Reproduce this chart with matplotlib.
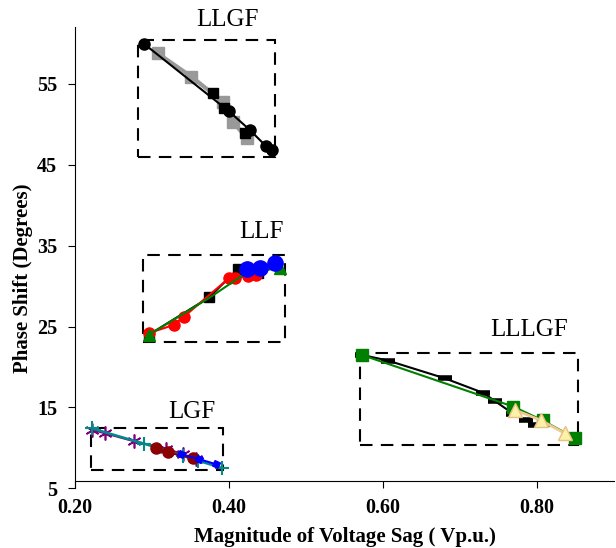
import matplotlib.pyplot as plt
from matplotlib.patches import Rectangle

plt.rcParams['font.family'] = ['Liberation Serif', 'DejaVu Serif']
plt.rcParams['xtick.major.pad'] = 7
plt.rcParams['ytick.major.pad'] = 8

# LLGF
llgf_circ_x = [0.289, 0.400, 0.427, 0.448, 0.455]
llgf_circ_y = [60.0, 51.6, 49.3, 47.3, 46.8]
llgf_sq_x = [0.379, 0.393, 0.420]
llgf_sq_y = [53.9, 52.0, 49.0]
llgf_gray_x = [0.307, 0.351, 0.392, 0.405, 0.423]
llgf_gray_y = [58.8, 55.9, 52.8, 50.3, 48.3]

# LLF
llf_tri_x = [0.296, 0.375, 0.420, 0.466]
llf_tri_y = [24.0, 28.6, 31.5, 32.3]
llf_red_x = [0.296, 0.328, 0.341, 0.400, 0.407, 0.424, 0.435]
llf_red_y = [24.2, 25.2, 26.2, 31.0, 31.0, 31.2, 31.4]
llf_sq_x = [0.296, 0.374, 0.411, 0.438]
llf_sq_y = [24.0, 28.6, 32.1, 31.6]
llf_blue_x = [0.423, 0.440, 0.459]
llf_blue_y = [32.1, 32.3, 32.8]

# LLLGF
lllgf_sq_x = [0.572, 0.769, 0.807, 0.849]
lllgf_sq_y = [21.5, 15.1, 13.4, 11.2]
lllgf_dash_x = [0.572, 0.606, 0.680, 0.730, 0.745, 0.769, 0.786, 0.797]
lllgf_dash_y = [21.5, 20.8, 18.6, 16.8, 15.8, 14.2, 13.4, 12.8]
lllgf_tri_x = [0.771, 0.805, 0.836]
lllgf_tri_y = [14.7, 13.4, 11.8]

# LGF
lgf_star_x = [0.2225, 0.239, 0.277, 0.318, 0.340, 0.357]
lgf_star_y = [12.2, 11.8, 10.8, 9.9, 9.2, 8.6]
lgf_plus_x = [0.222, 0.290, 0.340, 0.360, 0.391]
lgf_plus_y = [12.4, 10.5, 9.0, 8.4, 7.5]
lgf_red_x = [0.305, 0.320, 0.353]
lgf_red_y = [10.0, 9.45, 8.7]
lgf_blue_x = [0.338, 0.361, 0.383]
lgf_blue_y = [9.2, 8.6, 7.97]

xticks = [0.2, 0.4, 0.6, 0.8]
xtick_labels = ["0.20", "0.40", "0.60", "0.80"]
yticks = [5, 15, 25, 35, 45, 55]

# dashed boxes: (x0, x1, y0, y1), label, label pos
boxes = [
    ((0.282, 0.459, 46.0, 60.5), "LLGF", (0.398, 62.9)),
    ((0.288, 0.472, 23.1, 33.9), "LLF", (0.442, 36.7)),
    ((0.570, 0.853, 10.35, 21.7), "LLLGF", (0.79, 24.6)),
    ((0.220, 0.392, 7.26, 12.42), "LGF", (0.351, 14.4)),
]

fig = plt.figure(figsize=(6.16, 5.48), dpi=100)
ax = fig.add_axes([0.122, 0.109, 0.875, 0.841])
ax.spines['top'].set_visible(False)
ax.spines['right'].set_visible(False)
ax.spines['bottom'].set_position(('data', 5.9))

# LLGF
ax.plot(llgf_gray_x, llgf_gray_y, color='#999999', lw=3, marker='s', ms=9, zorder=3)
ax.plot(llgf_circ_x, llgf_circ_y, color='black', lw=1.5, marker='o', ms=8, zorder=4)
ax.plot(llgf_sq_x, llgf_sq_y, color='black', lw=1.5, marker='s', ms=7, ls='none', zorder=4)

# LLF
ax.plot(llf_sq_x, llf_sq_y, color='black', lw=1.5, marker='s', ms=7, zorder=3)
ax.plot(llf_red_x, llf_red_y, color='red', lw=1.5, marker='o', ms=8, zorder=4)
ax.plot(llf_tri_x, llf_tri_y, color='green', lw=1.5, marker='^', ms=9, markevery=[0, 3], zorder=4.5)
ax.plot(llf_blue_x, llf_blue_y, color='blue', lw=1.5, marker='o', ms=11, zorder=5)

# LLLGF
ax.plot(lllgf_dash_x, lllgf_dash_y, color='black', lw=1.5, marker='_', ms=10, mew=4, zorder=3)
ax.plot(lllgf_sq_x, lllgf_sq_y, color='green', lw=1.5, marker='s', ms=8, zorder=4)
ax.plot(lllgf_tri_x, lllgf_tri_y, color='#f0c890', lw=2, marker='^', ms=10,
        mfc='#fdf0a8', mec='#e8c080', zorder=5)

# LGF
ax.plot(lgf_star_x, lgf_star_y, color='#800080', lw=1.5, marker=(6, 2, 0), ms=10, mew=1.2, zorder=3)
ax.plot(lgf_plus_x, lgf_plus_y, color='#008b8b', lw=1.8, marker='+', ms=10, mew=1.5, zorder=4)
ax.plot(lgf_red_x, lgf_red_y, color='#8b0000', lw=1.5, marker='o', ms=8, zorder=5)
ax.plot(lgf_blue_x, lgf_blue_y, color='blue', lw=1.5, marker=(4, 0, 20), ms=6, zorder=5)

for (x0, x1, y0, y1), name, (lx, ly) in boxes:
    ax.add_patch(Rectangle((x0, y0), x1 - x0, y1 - y0, fill=False, ec='black',
                           lw=1.5, ls=(0, (6, 4)), zorder=2))
    ax.text(lx, ly, name, fontsize=18, ha='center', va='center', clip_on=False)

ax.set_xlim(0.2, 0.9)
ax.set_ylim(5, 62)
ax.tick_params(direction='out', length=5)
ax.set_xticks(xticks)
ax.set_xticklabels(xtick_labels, fontsize=14.5, fontweight='bold')
ax.set_yticks(yticks)
ax.set_yticklabels([str(v) for v in yticks], fontsize=14.5, fontweight='bold')
ax.set_xlabel("Magnitude of Voltage Sag ( Vp.u.)", fontsize=15, fontweight='bold')
ax.xaxis.set_label_coords(0.5, -0.083)
ax.set_ylabel("Phase Shift (Degrees)", fontsize=15, fontweight='bold')
ax.yaxis.set_label_coords(-0.078, 0.456)

fig.savefig("out.png", dpi=100)
